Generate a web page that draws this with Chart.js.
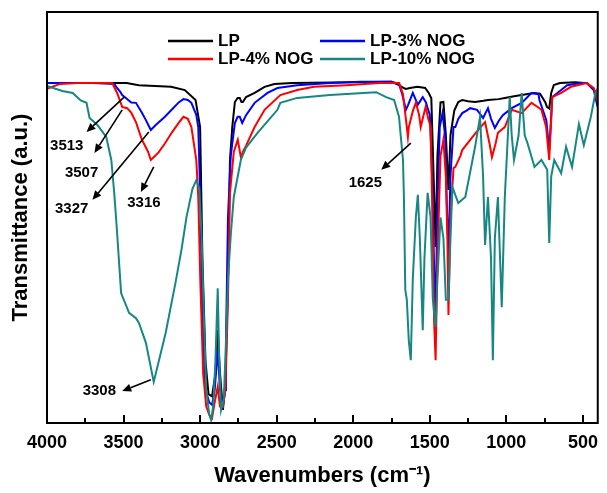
<!DOCTYPE html>
<html>
<head>
<meta charset="utf-8">
<script src="https://cdn.jsdelivr.net/npm/chart.js@4.4.1/dist/chart.umd.min.js"></script>
<style>
  html, body { margin: 0; padding: 0; background: #ffffff; }
  #wrap { width: 607px; height: 493px; }
</style>
</head>
<body>
<div id="wrap"><canvas id="ftirChart" width="607" height="493"></canvas></div>
<script>
// [wavenumber (cm-1), transmittance (a.u.)]
const seriesNames = ["LP", "LP-3% NOG", "LP-4% NOG", "LP-10% NOG"];
const seriesColors = ["#000000", "#0000ff", "#ff0000", "#168782"];

const spectrumLP = [
  [4000,82.7],[3750,82.7],[3550,82.7],[3480,82.7],[3400,82.2],[3190,81.8],[3100,81.0],[3030,78.6],
  [3000,72.0],[2985,40],[2965,15],[2945,7],[2922,6.5],[2900,12],[2885,22.6],[2870,12],[2851,3.2],
  [2835,10],[2818,35],[2805,64.0],[2790,72],[2773,78.1],[2755,79.1],[2741,79.1],[2730,78.1],
  [2721,78.1],[2700,79.3],[2644,80.3],[2579,81.8],[2515,82.5],[2400,82.7],[2000,82.9],[1750,83],
  [1701,82.2],[1670,81.5],[1656,81.3],[1630,81.5],[1580,81.8],[1530,81.5],[1507,80.3],[1490,79],
  [1475,60],[1462,42.8],[1450,65],[1430,78],[1411,78.1],[1395,70],[1378,56.7],[1365,70],[1340,76],
  [1314,78.1],[1288,78.6],[1250,78.3],[1204,78.1],[1150,78.4],[1120,78.6],[1050,78.8],[1010,79.1],
  [950,79.5],[900,79.8],[820,80.3],[780,80.1],[745,78],[735,76.9],[720,76.5],[707,80.3],[690,82.2],
  [650,82.7],[550,82.9],[474,82.7],[440,81.5],[410,80.3],[404,79.5]
];

const spectrumLP3 = [
  [4000,82.7],[3700,82.7],[3560,82.5],[3548,81.8],[3520,80.5],[3509,79.8],[3483,79.0],[3450,78.0],
  [3419,77.9],[3380,75.5],[3354,73.7],[3322,71.3],[3290,72.5],[3270,73.2],[3230,74.5],[3186,76.2],
  [3140,78],[3109,78.8],[3080,78.6],[3057,77.9],[3025,75],[3012,72.0],[2999,55],[2985,25],[2965,8],
  [2940,5],[2922,4.4],[2905,8],[2885,17.8],[2870,8],[2851,4.4],[2835,8],[2831,20],[2818,50],
  [2800,65],[2773,73.0],[2755,74.5],[2741,74.5],[2725,73.0],[2700,74.9],[2644,77.9],[2560,80.3],
  [2495,81.5],[2366,82.2],[2150,82.7],[1950,83],[1750,83],[1701,82.5],[1680,80],[1656,76.2],
  [1640,77.5],[1611,80.3],[1590,78.5],[1578,77.4],[1560,78.5],[1546,79.3],[1525,78],[1514,76.6],
  [1500,75],[1485,60],[1470,35],[1462,25.8],[1452,50],[1435,72],[1417,75.4],[1400,70],[1390,55],
  [1378,40.4],[1365,60],[1345,72],[1333,72.0],[1314,74],[1288,75.4],[1260,76],[1236,76.6],
  [1191,76.2],[1152,74.2],[1120,76.6],[1100,74],[1075,71.8],[1050,73.5],[1023,74.9],[965,76.6],
  [900,77.9],[836,80.3],[790,80],[784,78.6],[739,73.7],[720,66.4],[700,79.3],[642,81.0],[603,82.2],
  [513,82.7],[474,82.7],[429,81.0],[404,76.9]
];

const spectrumLP4 = [
  [4000,81.3],[3916,82.5],[3800,82.7],[3574,82.7],[3542,80.3],[3509,76.9],[3477,76.6],[3450,75.5],
  [3419,73.2],[3380,68.9],[3340,66],[3322,64.0],[3300,64.8],[3270,65.9],[3230,68],[3186,70.6],
  [3140,73],[3109,74.5],[3080,74],[3057,72.0],[3025,64.0],[3012,55],[2999,35],[2980,12],[2960,4],
  [2940,2],[2922,1.2],[2905,5],[2885,8.8],[2870,4],[2851,3.9],[2835,8],[2818,30],[2805,56.0],
  [2780,66],[2754,68.9],[2734,64.7],[2720,66],[2700,67.5],[2644,72.0],[2579,76.2],[2476,79.8],
  [2366,81.0],[2256,81.8],[2043,82.2],[1830,82.7],[1700,82.7],[1675,80],[1650,72],[1643,69.6],
  [1637,72.0],[1610,76],[1591,77.9],[1570,75],[1559,72.0],[1540,75],[1527,76.9],[1510,74],
  [1494,72.0],[1485,55],[1472,25],[1462,15.3],[1450,40],[1430,65],[1411,68.9],[1395,60],[1385,45],
  [1378,26.3],[1365,50],[1345,62],[1333,62.3],[1300,65],[1288,66.4],[1236,68.9],[1184,71.3],
  [1139,73.2],[1110,68],[1094,64.7],[1070,68],[1055,70.6],[1010,72.0],[965,76.2],[900,75.4],
  [836,77.9],[800,77.0],[771,76.2],[740,72],[720,64.0],[700,79.3],[642,80.3],[578,81.8],[474,82.7],
  [429,81.5],[410,79.3],[404,78]
];

const spectrumLP10 = [
  [4000,82.0],[3900,80.8],[3832,80.3],[3780,78.5],[3742,77.9],[3722,74.2],[3671,72.5],[3613,69.6],
  [3580,64.0],[3561,56.0],[3548,49.4],[3542,46.2],[3516,31.6],[3464,26.8],[3419,25.5],[3399,24.3],
  [3354,19.5],[3303,10.0],[3225,21.9],[3161,34.1],[3122,42.1],[3089,50.1],[3050,57],[3025,59.1],
  [3005,57],[2990,45],[2975,25],[2960,8],[2940,2],[2928,0.7],[2915,4],[2900,15],[2885,32.8],
  [2875,15],[2863,3.2],[2845,6],[2831,20],[2818,35],[2799,46.2],[2780,55],[2734,64.0],[2700,67],
  [2625,70.6],[2495,76.2],[2476,77.9],[2366,79.1],[2153,79.8],[1934,80.3],[1850,80.5],[1785,79.3],
  [1733,78.6],[1701,74.5],[1690,70],[1675,64.0],[1669,55],[1660,32.4],[1650,30],[1637,20],
  [1624,15.3],[1611,35],[1591,50],[1578,55.5],[1565,45],[1546,22.6],[1535,40],[1514,56.0],
  [1495,50],[1480,30],[1462,23.4],[1450,35],[1430,50],[1411,45],[1395,30],[1378,30],[1365,45],
  [1352,57.4],[1314,53.5],[1268,55.0],[1204,67.2],[1172,74.5],[1152,60],[1139,43.3],[1120,55],
  [1100,40],[1088,15.3],[1075,45],[1055,55],[1030,28.2],[1010,55],[990,70],[978,79.3],[965,70],
  [950,64],[920,70],[900,80.3],[880,70],[862,68.1],[816,62.3],[771,64.0],[733,61.6],[720,43.8],
  [707,60],[687,64.0],[642,60.8],[610,67.2],[571,62.3],[526,72.7],[494,67.6],[448,74.5],[420,80],
  [404,81.5]
];

const majorTicks = [4000, 3500, 3000, 2500, 2000, 1500, 1000, 500];
const minorTicks = [3750, 3250, 2750, 2250, 1750, 1250, 750];

// peak labels: arrow tail, arrow head and label centre, all in data units
const peakNotes = [
  { text: "3513", tail: [3496, 79.3], head: [3742, 70.8], at: [3871, 67.4] },
  { text: "3507", tail: [3509, 76.2], head: [3690, 65.7], at: [3774, 60.8] },
  { text: "3327", tail: [3335, 70.8], head: [3703, 54.3], at: [3839, 52.1] },
  { text: "3316", tail: [3303, 62.3], head: [3387, 56.2], at: [3367, 53.5] },
  { text: "1625", tail: [1624, 68.1], head: [1817, 61.6], at: [1921, 58.4] },
  { text: "3308", tail: [3322, 10.5], head: [3509, 7.8], at: [3658, 7.8] }
];

const allSpectra = [spectrumLP, spectrumLP3, spectrumLP4, spectrumLP10];
const boldFont = "bold 17px 'Liberation Sans', Arial, sans-serif";

const framePlugin = {
  id: "frame",
  afterDraw(chart) {
    const ctx = chart.ctx;
    const a = chart.chartArea;
    const xs = chart.scales.x;
    const ys = chart.scales.y;
    ctx.save();

    // inward ticks on bottom axis
    ctx.strokeStyle = "#000";
    ctx.lineWidth = 2;
    majorTicks.forEach(v => {
      const px = Math.round(xs.getPixelForValue(v));
      ctx.beginPath(); ctx.moveTo(px, a.bottom); ctx.lineTo(px, a.bottom - 8); ctx.stroke();
    });
    minorTicks.forEach(v => {
      const px = Math.round(xs.getPixelForValue(v));
      ctx.beginPath(); ctx.moveTo(px, a.bottom); ctx.lineTo(px, a.bottom - 5); ctx.stroke();
    });

    // frame
    ctx.strokeRect(a.left, a.top, a.right - a.left, a.bottom - a.top);

    // peak arrows and labels
    ctx.fillStyle = "#000";
    ctx.lineWidth = 1.6;
    peakNotes.forEach(n => {
      const x1 = xs.getPixelForValue(n.tail[0]), y1 = ys.getPixelForValue(n.tail[1]);
      const x2 = xs.getPixelForValue(n.head[0]), y2 = ys.getPixelForValue(n.head[1]);
      const ang = Math.atan2(y2 - y1, x2 - x1);
      const hl = 9, hw = 4;
      const bx = x2 - hl * Math.cos(ang), by = y2 - hl * Math.sin(ang);
      ctx.beginPath(); ctx.moveTo(x1, y1); ctx.lineTo(bx, by); ctx.stroke();
      ctx.beginPath();
      ctx.moveTo(x2, y2);
      ctx.lineTo(bx + hw * Math.sin(ang), by - hw * Math.cos(ang));
      ctx.lineTo(bx - hw * Math.sin(ang), by + hw * Math.cos(ang));
      ctx.closePath(); ctx.fill();

      ctx.font = "bold 15px 'Liberation Sans', Arial, sans-serif";
      ctx.textAlign = "center";
      ctx.textBaseline = "middle";
      ctx.fillText(n.text, xs.getPixelForValue(n.at[0]), ys.getPixelForValue(n.at[1]));
    });

    // legend, two columns
    const cols = [a.left + 121, a.left + 273];
    const rows = [a.top + 29, a.top + 47];
    ctx.font = boldFont;
    ctx.textAlign = "left";
    ctx.textBaseline = "middle";
    seriesNames.forEach((name, i) => {
      const cx = cols[i % 2], cy = rows[Math.floor(i / 2)];
      ctx.strokeStyle = seriesColors[i];
      ctx.lineWidth = 2.5;
      ctx.beginPath(); ctx.moveTo(cx, cy); ctx.lineTo(cx + 45, cy); ctx.stroke();
      ctx.fillStyle = "#000";
      ctx.fillText(name, cx + 50, cy);
    });
    ctx.restore();
  }
};

const ctx = document.getElementById("ftirChart").getContext("2d");
const chart = new Chart(ctx, {
  type: "line",
  data: {
    datasets: allSpectra.map((s, i) => ({
      label: seriesNames[i],
      data: s.map(p => ({ x: p[0], y: p[1] })),
      borderColor: seriesColors[i],
      borderWidth: 2,
      pointRadius: 0,
      tension: 0,
      fill: false,
      order: 4 - i
    }))
  },
  options: {
    responsive: false,
    animation: false,
    layout: { padding: { top: 12, right: 3, left: 0, bottom: 0 } },
    plugins: {
      legend: { display: false },
      tooltip: { enabled: false }
    },
    scales: {
      x: {
        type: "linear",
        reverse: true,
        min: 403,
        max: 4000,
        afterBuildTicks: scale => { scale.ticks = majorTicks.map(v => ({ value: v })); },
        afterFit: scale => { scale.height = 70; },
        grid: { display: false, drawTicks: false },
        border: { display: false },
        ticks: {
          color: "#000",
          padding: 9,
          maxRotation: 0,
          autoSkip: false,
          callback: v => String(v),
          font: { family: "'Liberation Sans', Arial, sans-serif", size: 18, weight: "bold" }
        },
        title: {
          display: true,
          text: "Wavenumbers (cm\u207B\u00B9)",
          color: "#000",
          padding: { top: 0, bottom: 4 },
          font: { family: "'Liberation Sans', Arial, sans-serif", size: 22, weight: "bold" }
        }
      },
      y: {
        type: "linear",
        min: 0,
        max: 100,
        afterFit: scale => { scale.width = 47; },
        grid: { display: false, drawTicks: false },
        border: { display: false },
        ticks: { display: false },
        title: {
          display: true,
          text: "Transmittance (a.u.)",
          color: "#000",
          padding: { top: 8, bottom: 0 },
          font: { family: "'Liberation Sans', Arial, sans-serif", size: 22, weight: "bold" }
        }
      }
    }
  },
  plugins: [framePlugin]
});
</script>
</body>
</html>
